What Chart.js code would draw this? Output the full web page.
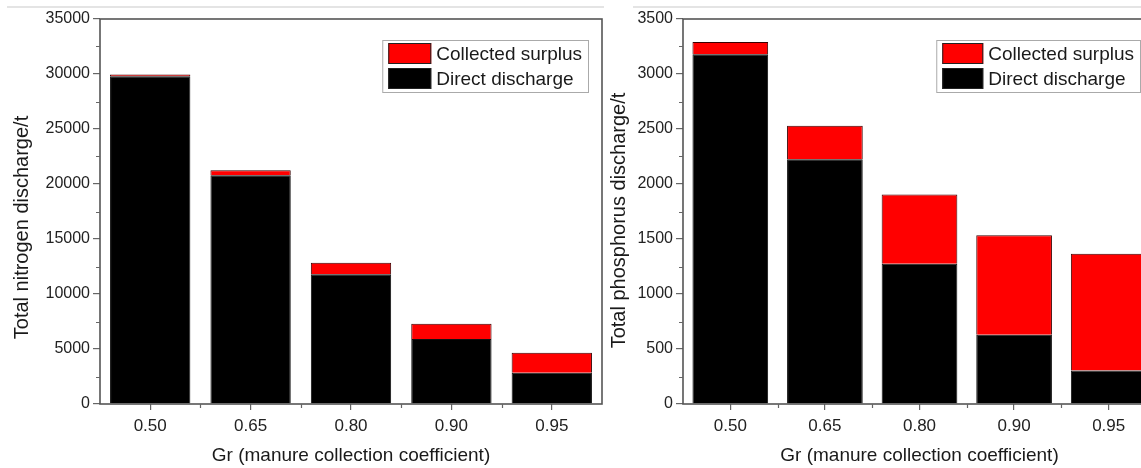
<!DOCTYPE html>
<html><head><meta charset="utf-8">
<script src="https://cdn.jsdelivr.net/npm/chart.js@4"></script>
<style>
html,body{margin:0;padding:0;background:#fff;overflow:hidden;width:1141px;height:468px;}
#w1{position:absolute;left:0;top:0;width:606px;height:468px;}
#w2{position:absolute;left:583px;top:0;width:581px;height:468px;}
.ln{position:absolute;top:6px;height:2px;background:#e4e4e4;}
</style></head><body>
<div class="ln" style="left:7px;width:597px"></div>
<div class="ln" style="left:633px;width:508px"></div>
<div id="w1"><canvas id="c1" width="606" height="468"></canvas></div>
<div id="w2"><canvas id="c2" width="581" height="468"></canvas></div>
<script>
// ---- data ----
const categories = ['0.50', '0.65', '0.80', '0.90', '0.95'];
const nitrogenDirect  = [29800, 20800, 11800, 5900, 2850];
const nitrogenSurplus = [150, 450, 1050, 1400, 1800];
const phosphorusDirect  = [3180, 2225, 1275, 630, 305];
const phosphorusSurplus = [110, 305, 630, 905, 1060];
const seriesNames = ['Direct discharge', 'Collected surplus'];
const nitrogenAxis = {min: 0, max: 35000, step: 5000};
const phosphorusAxis = {min: 0, max: 3500, step: 500};
const xTitleText = 'Gr (manure collection coefficient)';
const nitrogenTitle = 'Total nitrogen discharge/t';
const phosphorusTitle = 'Total phosphorus discharge/t';

Chart.defaults.font.family = "'Liberation Sans', Arial, sans-serif";
Chart.defaults.color = '#222';

const decor = {
  id: 'decor',
  afterDraw(chart, args, o) {
    const {ctx, chartArea: a, scales: {x, y}} = chart;
    ctx.save();
    // frame
    ctx.strokeStyle = '#555'; ctx.lineWidth = 1.6;
    ctx.strokeRect(a.left, a.top, a.right - a.left, a.bottom - a.top);
    // minor ticks
    ctx.lineWidth = 1.2; ctx.strokeStyle = '#666';
    ctx.beginPath();
    for (let v = y.min + o.step / 2; v < y.max; v += o.step) {
      const py = Math.round(y.getPixelForValue(v)) + 0.5;
      ctx.moveTo(a.left, py); ctx.lineTo(a.left - 4, py);
    }
    const cw = x.getPixelForValue(1) - x.getPixelForValue(0);
    for (let i = 1; i < x.ticks.length; i++) {
      const px = Math.round(x.getPixelForValue(i) - cw / 2) + 0.5;
      ctx.moveTo(px, a.bottom); ctx.lineTo(px, a.bottom + 4);
    }
    ctx.stroke();
    // titles
    ctx.fillStyle = '#1a1a1a';
    ctx.textAlign = 'center'; ctx.textBaseline = 'middle';
    ctx.font = "19px 'Liberation Sans', Arial, sans-serif";
    ctx.fillText(o.xTitle, (a.left + a.right) / 2, o.xTitleY);
    ctx.save();
    ctx.translate(a.left + o.yTitleDX, (a.top + a.bottom) / 2 + o.yTitleDY);
    ctx.rotate(-Math.PI / 2);
    ctx.font = "20px 'Liberation Sans', Arial, sans-serif";
    ctx.fillText(o.yTitle, 0, 0);
    ctx.restore();
    // legend
    ctx.font = "19px 'Liberation Sans', Arial, sans-serif";
    const items = chart.data.datasets.slice().reverse();
    const tw = Math.max(...items.map(d => ctx.measureText(d.label).width));
    const sw = o.swatchW, sh = 21, pad = 6, gap = 5, rowH = 25;
    const bw = pad + sw + gap + tw + pad, bh = 52;
    const bx = a.right - o.legendRight - bw, by = a.top + 21;
    ctx.fillStyle = '#fff';
    ctx.fillRect(bx, by, bw, bh);
    ctx.strokeStyle = '#aaa'; ctx.lineWidth = 1;
    ctx.strokeRect(bx + 0.5, by + 0.5, bw, bh);
    items.forEach((d, i) => {
      const sy = by + 3 + i * rowH;
      ctx.fillStyle = d.backgroundColor;
      ctx.fillRect(bx + pad, sy, sw, sh);
      ctx.strokeStyle = '#222';
      ctx.strokeRect(bx + pad + 0.5, sy + 0.5, sw - 1, sh - 1);
      ctx.fillStyle = '#1a1a1a';
      ctx.textAlign = 'left';
      ctx.fillText(d.label, bx + pad + sw + gap, sy + sh / 2 + 1);
    });
    ctx.restore();
  }
};

function makeChart(id, direct, surplus, axis, cfg) {
  return new Chart(document.getElementById(id), {
    type: 'bar',
    data: {
      labels: categories,
      datasets: [
        {label: seriesNames[0], data: direct, backgroundColor: '#000000', borderColor: '#111', borderWidth: 1,
         categoryPercentage: 1, barPercentage: 0.8},
        {label: seriesNames[1], data: surplus, backgroundColor: '#ff0000', borderColor: '#3a0000', borderWidth: 1,
         categoryPercentage: 1, barPercentage: 0.8}
      ]
    },
    options: {
      responsive: false, animation: false,
      layout: {padding: {left: 0, top: 19, right: cfg.padRight, bottom: 0}},
      plugins: {
        legend: {display: false}, tooltip: {enabled: false},
        decor: {step: axis.step, xTitle: xTitleText, xTitleY: 456, yTitle: cfg.yTitle,
                yTitleDX: cfg.yTitleDX, yTitleDY: cfg.yTitleDY, swatchW: cfg.swatchW, legendRight: cfg.legendRight}
      },
      scales: {
        x: {
          stacked: true,
          grid: {display: true, drawOnChartArea: false, drawTicks: true, tickLength: 6, offset: false, color: '#666', lineWidth: 1.2},
          border: {display: false},
          ticks: {font: {size: 17}, padding: 6, color: '#222'},
          afterFit: s => { s.height = 64; }
        },
        y: {
          stacked: true, min: axis.min, max: axis.max,
          grid: {display: true, drawOnChartArea: false, drawTicks: true, tickLength: 7, color: '#666', lineWidth: 1.2},
          border: {display: false},
          ticks: {stepSize: axis.step, font: {size: 16}, padding: 3, color: '#222', callback: v => String(v)},
          afterFit: s => { s.width = 100; }
        }
      }
    },
    plugins: [decor]
  });
}

makeChart('c1', nitrogenDirect, nitrogenSurplus, nitrogenAxis,
  {padRight: 4, yTitle: nitrogenTitle, yTitleDX: -78, yTitleDY: 16, swatchW: 43, legendRight: 14});
makeChart('c2', phosphorusDirect, phosphorusSurplus, phosphorusAxis,
  {padRight: 8, yTitle: phosphorusTitle, yTitleDX: -64, yTitleDY: 9, swatchW: 41, legendRight: 16});
</script>
</body></html>
